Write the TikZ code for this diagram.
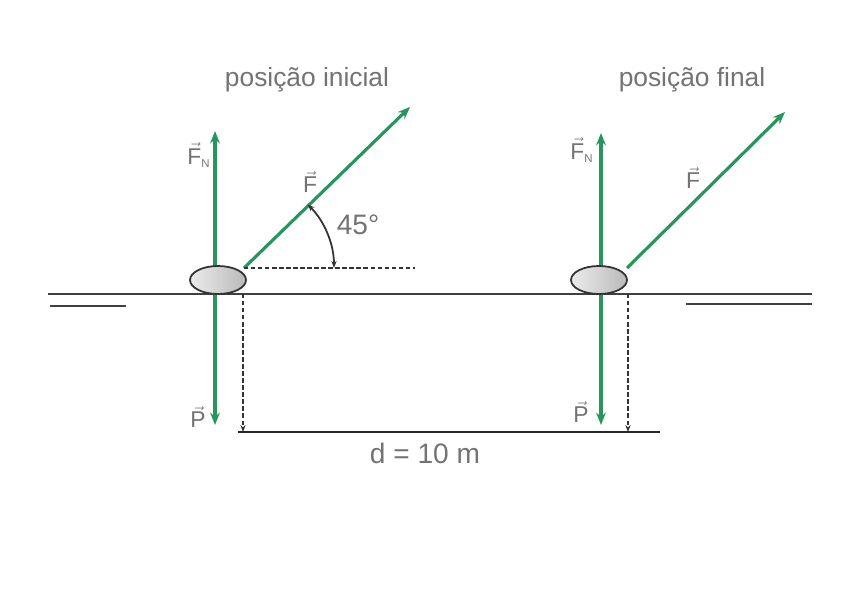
\documentclass[tikz,border=0pt]{standalone}
\usepackage{amsmath}
\usepackage{fontspec}
\setmainfont{Liberation Sans}
\usepackage{xcolor}
\usetikzlibrary{shapes.geometric,arrows.meta,positioning,calc}

\definecolor{forcegreen}{RGB}{40,150,92}
\definecolor{labelgray}{RGB}{115,115,115}
\newcommand{\vecF}[1]{$\vec{\text{#1}}$}
\newcommand{\vecFN}[1]{$\vec{\text{#1}}_{\scriptscriptstyle\text{N}}$}

\begin{document}
\begin{tikzpicture}[x=0.02cm,y=-0.02cm,
    force/.style={-{Stealth[length=7pt,width=5.5pt]}, line width=1.8pt, forcegreen},
    ground/.style={line width=1.3pt, black!75},
    guide/.style={line width=1.2pt, black!80, dash pattern=on 2.5pt off 1.5pt},
    body/.style={ellipse, draw=black!80, line width=1pt, minimum width=1.12cm, minimum height=0.56cm, inner sep=0pt, left color=gray!15, right color=gray!55},
    lbl/.style={text=labelgray, inner sep=1pt}]
        \useasboundingbox (0,0) rectangle (865,608);

        % Anchor points
        \coordinate (c1) at (215,294);
        \coordinate (c2) at (601,294);
        \coordinate (o1) at (244,268);
        \coordinate (o2) at (627,268);
        \coordinate (fn1) at (215,131);
        \coordinate (fn2) at (601,133);
        \coordinate (p1) at (215,425);
        \coordinate (p2) at (601,425);
        \coordinate (f1) at (410,107);
        \coordinate (f2) at (785,112);
        \coordinate (h1) at (415,268);
        \coordinate (t1) at (243,294);
        \coordinate (t2) at (628,294);
        \coordinate (d1) at (243,432);
        \coordinate (d2) at (628,432);
        \coordinate (dl) at (238,432);
        \coordinate (dr) at (660,432);

        % Ground
        \draw[ground] (48,294) -- (812,294);
        \draw[ground] (50,306) -- (126,306);
        \draw[ground] (686,304) -- (812,304);

        % Forces, initial position
        \draw[force] (c1) -- (fn1);
        \draw[force] (c1) -- (p1);
        \draw[force] (o1) -- (f1);

        % Forces, final position
        \draw[force] (c2) -- (fn2);
        \draw[force] (c2) -- (p2);
        \draw[force] (o2) -- (f2);

        % Bodies
        \node[body] (b1) at (218,280) {};
        \node[body] (b2) at (599,280) {};

        % Angle
        \draw[guide] (o1) -- (h1);
        \draw[{Stealth[length=4pt]}-{Stealth[length=4pt]}, line width=1pt, black!80]
            ($(o1)+(1.8cm,0)$) arc[start angle=0, end angle=45, radius=1.8cm];
        \node[lbl, font=\fontsize{16}{18}\selectfont] (ang) at (358,225) {45°};

        % Displacement
        \draw[guide, -{Stealth[length=4pt]}] (t1) -- (d1);
        \draw[guide, -{Stealth[length=4pt]}] (t2) -- (d2);
        \draw[line width=1.6pt, black!85] (dl) -- (dr);
        \node[lbl, font=\fontsize{16}{18}\selectfont] (dist) at (425,453) {d = 10 m};

        % Labels
        \node[lbl, font=\fontsize{15}{18}\selectfont] (ini) at (307,80) {posição inicial};
        \node[lbl, font=\fontsize{15}{18}\selectfont] (fin) at (692,80) {posição final};
        \node[lbl, font=\fontsize{13}{15}\selectfont] (lfn1) at (199,155) {\vecFN{F}};
        \node[lbl, font=\fontsize{13}{15}\selectfont] (lf1) at (310,182) {\vecF{F}};
        \node[lbl, font=\fontsize{13}{15}\selectfont] (lp1) at (198,417) {\vecF{P}};
        \node[lbl, font=\fontsize{13}{15}\selectfont] (lfn2) at (582,150) {\vecFN{F}};
        \node[lbl, font=\fontsize{13}{15}\selectfont] (lf2) at (693,178) {\vecF{F}};
        \node[lbl, font=\fontsize{13}{15}\selectfont] (lp2) at (581,412) {\vecF{P}};
      \end{tikzpicture}
\end{document}
